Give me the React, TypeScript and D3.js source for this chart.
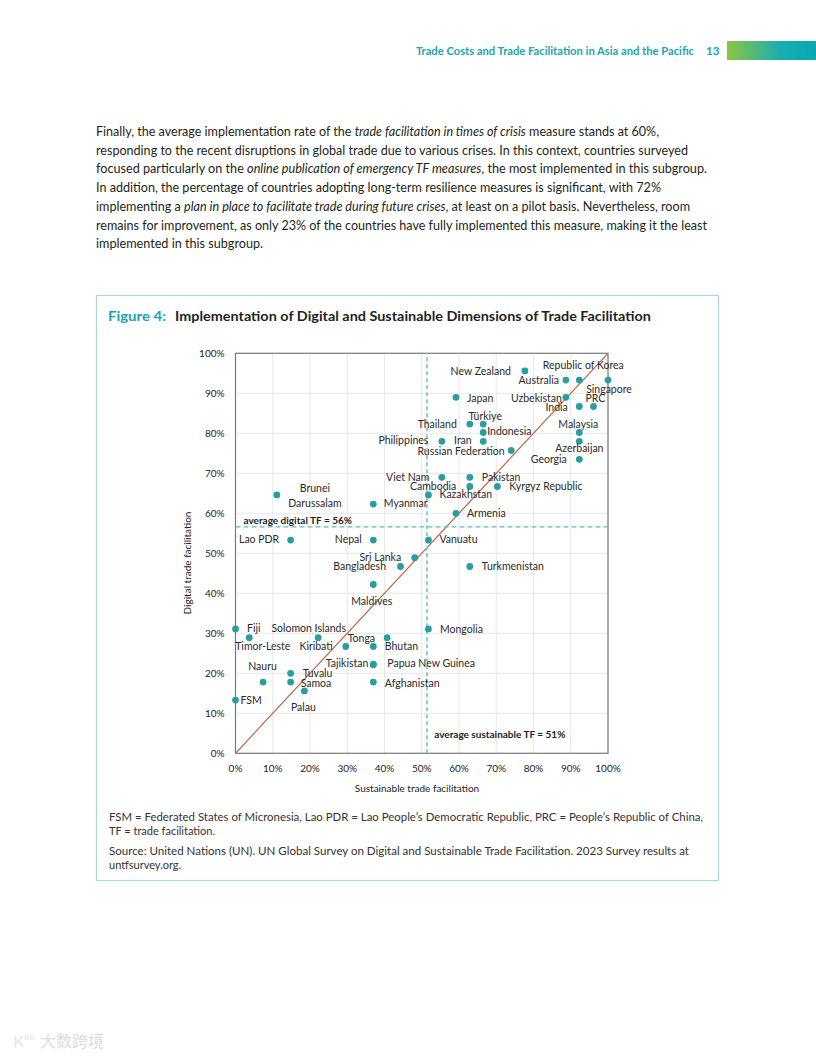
import React from "react";
import * as d3 from "d3";

// ---------- DATA ----------
const countries = [
  "New Zealand", "Republic of Korea", "Australia", "Singapore", "Japan", "Uzbekistan", "India", "PRC",
  "Thailand", "Türkiye", "Indonesia", "Malaysia", "Philippines", "Iran", "Russian Federation", "Azerbaijan",
  "Georgia", "Viet Nam", "Pakistan", "Cambodia", "Kyrgyz Republic", "Kazakhstan", "Brunei Darussalam", "Myanmar",
  "Armenia", "Lao PDR", "Nepal", "Vanuatu", "Sri Lanka", "Bangladesh", "Turkmenistan", "Maldives",
  "Fiji", "Timor-Leste", "Solomon Islands", "Kiribati", "Tonga", "Bhutan", "Mongolia", "Tajikistan",
  "Papua New Guinea", "Afghanistan", "Nauru", "Tuvalu", "Samoa", "Palau", "FSM",
];
// sustainable trade facilitation (%)
const sustainable = [
  77.7, 92.3, 88.7, 100, 59.2, 88.7, 92.3, 96.1,
  62.9, 66.5, 66.5, 92.3, 55.4, 66.5, 74.0, 92.3,
  92.3, 55.4, 62.9, 62.9, 70.3, 51.8, 11.1, 37.0,
  59.2, 14.8, 37.0, 51.8, 48.1, 44.3, 62.9, 37.0,
  0, 3.7, 22.2, 29.6, 40.7, 37.0, 51.8, 37.0,
  37.0, 37.0, 7.4, 14.8, 14.8, 18.5, 0,
];
// digital trade facilitation (%)
const digital = [
  95.6, 93.3, 93.3, 93.3, 89.0, 89.0, 86.7, 86.7,
  82.3, 82.3, 80.2, 80.2, 78.0, 78.0, 75.7, 78.0,
  73.5, 69.0, 69.0, 66.7, 66.7, 64.6, 64.6, 62.3,
  60.0, 53.3, 53.3, 53.3, 48.9, 46.7, 46.7, 42.2,
  31.1, 28.9, 28.9, 26.7, 28.9, 26.7, 31.1, 22.2,
  22.2, 17.8, 17.8, 20.0, 17.8, 15.6, 13.3,
];
const avgDigital = 56.6;
const avgSustainable = 51.4;
const xTicks = [0, 10, 20, 30, 40, 50, 60, 70, 80, 90, 100];
const yTicks = [0, 10, 20, 30, 40, 50, 60, 70, 80, 90, 100];

// label placement (anchor, offset from the dot in px)
const labelAnchor = [
  "end", "middle", "end", "middle", "start", "end", "end", "middle",
  "end", "middle", "start", "middle", "end", "end", "end", "middle",
  "end", "end", "start", "end", "start", "start", "middle", "start",
  "start", "end", "end", "start", "end", "end", "start", "middle",
  "start", "middle", "middle", "end", "end", "start", "start", "end",
  "start", "start", "middle", "start", "start", "middle", "start",
];
const labelDx = [
  -14, 4, -7, 1, 11, -4, -11.5, 2,
  -13, 2, 4, -1, -13.5, -11.5, -6.5, 0,
  -12.5, -12.5, 12, -13.5, 12, 11, 38, 10.5,
  11, -11.5, -11.5, 11, -13.5, -14.5, 12, -1.5,
  11.5, 13.5, -9.5, -13, -12, 11.5, 11.5, -5,
  14, 11.5, -0.5, 12, 10, -1, 5,
];
const labelDy = [
  4.3, -10.7, 4.3, 12.7, 4.4, 4.4, 4.4, -4.6,
  4.3, -4, 2.3, -4.4, 2.7, 2.7, 4.3, 11,
  3.4, 3.4, 3.4, 3.7, 3.7, 3.3, -2.7, 3.3,
  3.4, 3.3, 3.3, 3.3, 3, 3.3, 3.3, 20.7,
  3.3, 12.3, -5.4, 3.3, 4.6, 3.3, 4.3, 2.6,
  2.6, 4.4, -12.3, 4, 4.4, 19.7, 4,
];

const bodyLines: [string, boolean][][] = [
  [["Finally, the average implementation rate of the ", false], ["trade facilitation in times of crisis", true], [" measure stands at 60%,", false]],
  [["responding to the recent disruptions in global trade due to various crises. In this context, countries surveyed", false]],
  [["focused particularly on the ", false], ["online publication of emergency TF measures", true], [", the most implemented in this subgroup.", false]],
  [["In addition, the percentage of countries adopting long-term resilience measures is significant, with 72%", false]],
  [["implementing a ", false], ["plan in place to facilitate trade during future crises", true], [", at least on a pilot basis. Nevertheless, room", false]],
  [["remains for improvement, as only 23% of the countries have fully implemented this measure, making it the least", false]],
  [["implemented in this subgroup.", false]],
];
const bodyWidths = [563, 592, 611, 565, 594, 611, 167];

const notes = [
  "FSM = Federated States of Micronesia, Lao PDR = Lao People’s Democratic Republic, PRC = People’s Republic of China,",
  "TF = trade facilitation.",
  "Source: United Nations (UN). UN Global Survey on Digital and Sustainable Trade Facilitation. 2023 Survey results at",
  "untfsurvey.org.",
];
const noteWidths = [594, 0, 580, 0];

// ---------- STYLE ----------
const FONT = "Lato, 'Open Sans', sans-serif";
const TEAL = "#2a9d9f";
const DASH_H = "#5fbcc0";
const DASH_V = "#86c8cb";
const DIAG = "#c0643e";

export default function App() {
  const x = d3.scaleLinear().domain([0, 100]).range([235.5, 608]);
  const y = d3.scaleLinear().domain([0, 100]).range([753.3, 353.3]);
  const pct = (v: number) => `${v}%`;
  const diag = d3.line<number>().x((d) => x(d)).y((d) => y(d))([0, 100]) || "";

  return (
    <svg
      width={816}
      height={1056}
      viewBox="0 0 816 1056"
      style={{ position: "absolute", left: 0, top: 0, background: "#fff" }}
      fontFamily={FONT}
    >
      <defs>
        <linearGradient id="hdr" x1="0" x2="1" y1="0" y2="0">
          <stop offset="0" stopColor="#8cc63f" />
          <stop offset="0.6" stopColor="#1aadb0" />
          <stop offset="1" stopColor="#05a9b6" />
        </linearGradient>
      </defs>

      {/* header */}
      <text x={694} y={55} textAnchor="end" fontSize={11.5} fontWeight={700} fill="#1aa7ad"
        textLength={278} lengthAdjust="spacingAndGlyphs">
        Trade Costs and Trade Facilitation in Asia and the Pacific
      </text>
      <text x={706} y={55} fontSize={11.5} fontWeight={700} fill="#1aa7ad">13</text>
      <rect x={727} y={41} width={89} height={19} fill="url(#hdr)" />

      {/* body text */}
      {bodyLines.map((segs, i) => (
        <text key={i} x={96} y={136 + i * 18.7} fontSize={12.5} fill="#231f20"
          textLength={bodyWidths[i]} lengthAdjust="spacingAndGlyphs">
          {segs.map(([t, it], j) => (
            <tspan key={j} fontStyle={it ? "italic" : "normal"}>{t}</tspan>
          ))}
        </text>
      ))}

      {/* figure box */}
      <rect x={96.5} y={295.5} width={622} height={585} fill="none" stroke="#a9d7e0" strokeWidth={1.2} />
      <text x={108} y={321} fontSize={14} fontWeight={700} fill="#1ba3b0"
        textLength={58} lengthAdjust="spacingAndGlyphs">Figure 4:</text>
      <text x={175} y={321} fontSize={14} fontWeight={700} fill="#231f20"
        textLength={476} lengthAdjust="spacingAndGlyphs">
        Implementation of Digital and Sustainable Dimensions of Trade Facilitation
      </text>

      {/* grid */}
      {xTicks.map((t) => (
        <line key={"gx" + t} x1={x(t)} x2={x(t)} y1={y(0)} y2={y(100)} stroke="#e8e8e8" strokeWidth={1} />
      ))}
      {yTicks.map((t) => (
        <line key={"gy" + t} x1={x(0)} x2={x(100)} y1={y(t)} y2={y(t)} stroke="#e8e8e8" strokeWidth={1} />
      ))}
      <rect x={x(0)} y={y(100)} width={x(100) - x(0)} height={y(0) - y(100)} fill="none" stroke="#7a7a7a" strokeWidth={1.2} />

      {/* tick labels */}
      {yTicks.map((t) => (
        <text key={"ty" + t} x={x(0) - 11} y={y(t) + 3.5} textAnchor="end" fontSize={10} fill="#222">{pct(t)}</text>
      ))}
      {xTicks.map((t) => (
        <text key={"tx" + t} x={x(t)} y={y(0) + 18.5} textAnchor="middle" fontSize={10} fill="#222">{pct(t)}</text>
      ))}
      <text x={417} y={792} textAnchor="middle" fontSize={10} fill="#222">Sustainable trade facilitation</text>
      <text transform={`translate(190.5, 563) rotate(-90)`} textAnchor="middle" fontSize={10} fill="#222">
        Digital trade facilitation
      </text>

      {/* diagonal */}
      <path d={diag} stroke={DIAG} strokeWidth={1.2} fill="none" />

      {/* average lines */}
      <line x1={x(0)} x2={x(100)} y1={y(avgDigital)} y2={y(avgDigital)} stroke={DASH_H} strokeWidth={1.3} strokeDasharray="5,3" />
      <line x1={x(avgSustainable)} x2={x(avgSustainable)} y1={y(0)} y2={y(100)} stroke={DASH_V} strokeWidth={1.8} strokeDasharray="4,3" />
      <text x={x(0) + 8} y={y(avgDigital) - 2.8} fontSize={10} fontWeight={700} fill="#222">
        {`average digital TF = ${Math.trunc(avgDigital)}%`}
      </text>
      <text x={x(avgSustainable) + 7.3} y={y(0) - 15} fontSize={10} fontWeight={700} fill="#222">
        {`average sustainable TF = ${Math.trunc(avgSustainable)}%`}
      </text>

      {/* points */}
      {countries.map((c, i) => (
        <circle key={"p" + i} cx={x(sustainable[i])} cy={y(digital[i])} r={3.4} fill={TEAL} />
      ))}

      {/* labels */}
      {countries.map((c, i) => {
        const cx = x(sustainable[i]) + labelDx[i];
        const cy = y(digital[i]) + labelDy[i];
        if (c === "Brunei Darussalam") {
          return (
            <g key={"l" + i}>
              <text x={cx} y={cy} textAnchor="middle" fontSize={10.5} fill="#2a2a2a">Brunei</text>
              <text x={cx} y={cy + 14.4} textAnchor="middle" fontSize={10.5} fill="#2a2a2a">Darussalam</text>
            </g>
          );
        }
        return (
          <text key={"l" + i} x={cx} y={cy} textAnchor={labelAnchor[i] as any} fontSize={10.5} fill="#2a2a2a">{c}</text>
        );
      })}

      {/* notes */}
      {notes.map((n, i) => (
        <text key={"n" + i} x={109} y={[821, 835, 855, 869][i]} fontSize={11} fill="#333"
          {...(noteWidths[i] ? { textLength: noteWidths[i], lengthAdjust: "spacingAndGlyphs" } : {})}>
          {n}
        </text>
      ))}

      {/* watermark */}
      <text x={14} y={1047} fontSize={15} fill="#e2e2e2" fontFamily="'Noto Sans CJK SC', sans-serif">Ꮶ°°</text>
      <text x={40} y={1047} fontSize={16} fill="#dcdcdc" fontFamily="'Noto Sans CJK SC', sans-serif">大数跨境</text>
    </svg>
  );
}
